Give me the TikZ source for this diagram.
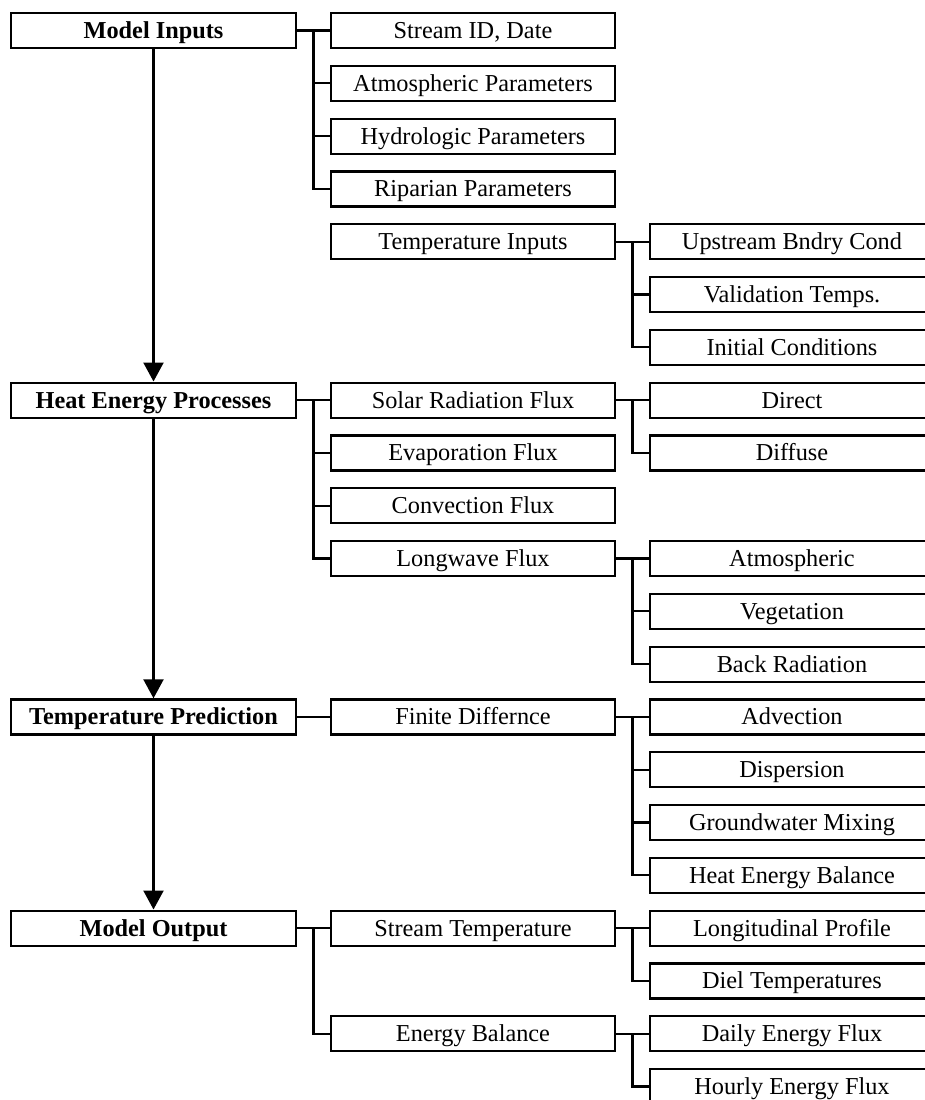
\documentclass[tikz,border=0pt]{standalone}
\usepackage{fontspec}
\setmainfont{Liberation Serif}
\usetikzlibrary{calc,arrows.meta}
\begin{document}
\begin{tikzpicture}[x=0.5pt,y=-0.5pt,
  box/.style={draw,line width=1.1pt,rectangle,inner sep=0pt,minimum height=17.5pt,text height=8pt,text depth=0pt,font=\fontsize{12.15}{14}\selectfont},
  lbox/.style={box,minimum width=142.5pt,font=\fontsize{12.15}{14}\selectfont\bfseries},
  mbox/.style={box,minimum width=142pt},
  rbox/.style={box,minimum width=142pt},
  conn/.style={line width=1.1pt},
  arr/.style={line width=1.1pt,-{Triangle[length=9.5pt,width=10pt]}}]
\useasboundingbox (0,0) rectangle (925,1100);
\clip (0,0) rectangle (925,1100);
\def\R#1{{30.5+52.8*#1}}
% left column
\node[lbox] (mi)  at (153.5,\R{0})  {Model Inputs};
\node[lbox] (hep) at (153.5,\R{7})  {Heat Energy Processes};
\node[lbox] (tp)  at (153.5,\R{13}) {Temperature Prediction};
\node[lbox] (mo)  at (153.5,\R{17}) {Model Output};
% middle column
\node[mbox] (sid) at (473,\R{0})  {Stream ID, Date};
\node[mbox] (atp) at (473,\R{1})  {Atmospheric Parameters};
\node[mbox] (hyp) at (473,\R{2})  {Hydrologic Parameters};
\node[mbox] (rip) at (473,\R{3})  {Riparian Parameters};
\node[mbox] (ti)  at (473,\R{4})  {Temperature Inputs};
\node[mbox] (srf) at (473,\R{7})  {Solar Radiation Flux};
\node[mbox] (evf) at (473,\R{8})  {Evaporation Flux};
\node[mbox] (cvf) at (473,\R{9})  {Convection Flux};
\node[mbox] (lwf) at (473,\R{10}) {Longwave Flux};
\node[mbox] (fd)  at (473,\R{13}) {Finite Differnce};
\node[mbox] (st)  at (473,\R{17}) {Stream Temperature};
\node[mbox] (eb)  at (473,\R{19}) {Energy Balance};
% right column
\node[rbox] (ubc) at (792,\R{4})  {Upstream Bndry Cond};
\node[rbox] (vt)  at (792,\R{5})  {Validation Temps.};
\node[rbox] (ic)  at (792,\R{6})  {Initial Conditions};
\node[rbox] (dir) at (792,\R{7})  {Direct};
\node[rbox] (dif) at (792,\R{8})  {Diffuse};
\node[rbox] (atm) at (792,\R{10}) {Atmospheric};
\node[rbox] (veg) at (792,\R{11}) {Vegetation};
\node[rbox] (br)  at (792,\R{12}) {Back Radiation};
\node[rbox] (adv) at (792,\R{13}) {Advection};
\node[rbox] (dsp) at (792,\R{14}) {Dispersion};
\node[rbox] (gwm) at (792,\R{15}) {Groundwater Mixing};
\node[rbox] (heb) at (792,\R{16}) {Heat Energy Balance};
\node[rbox] (lp)  at (792,\R{17}) {Longitudinal Profile};
\node[rbox] (dt)  at (792,\R{18}) {Diel Temperatures};
\node[rbox] (def) at (792,\R{19}) {Daily Energy Flux};
\node[rbox] (hef) at (792,\R{20}) {Hourly Energy Flux};
% main arrows
\draw[arr] (mi.south) -- (hep.north);
\draw[arr] (hep.south) -- (tp.north);
\draw[arr] (tp.south) -- (mo.north);
% brackets
\draw[conn] (mi.east) -- (sid.west);
\foreach \c in {atp,hyp,rip} \draw[conn] ($(mi.east)!.5!(sid.west)$) |- (\c.west);
\draw[conn] (ti.east) -- (ubc.west);
\foreach \c in {vt,ic} \draw[conn] ($(ti.east)!.5!(ubc.west)$) |- (\c.west);
\draw[conn] (hep.east) -- (srf.west);
\foreach \c in {evf,cvf,lwf} \draw[conn] ($(hep.east)!.5!(srf.west)$) |- (\c.west);
\draw[conn] (srf.east) -- (dir.west);
\draw[conn] ($(srf.east)!.5!(dir.west)$) |- (dif.west);
\draw[conn] (lwf.east) -- (atm.west);
\foreach \c in {veg,br} \draw[conn] ($(lwf.east)!.5!(atm.west)$) |- (\c.west);
\draw[conn] (tp.east) -- (fd.west);
\draw[conn] (fd.east) -- (adv.west);
\foreach \c in {dsp,gwm,heb} \draw[conn] ($(fd.east)!.5!(adv.west)$) |- (\c.west);
\draw[conn] (mo.east) -- (st.west);
\draw[conn] ($(mo.east)!.5!(st.west)$) |- (eb.west);
\draw[conn] (st.east) -- (lp.west);
\draw[conn] ($(st.east)!.5!(lp.west)$) |- (dt.west);
\draw[conn] (eb.east) -- (def.west);
\draw[conn] ($(eb.east)!.5!(def.west)$) |- (hef.west);
\end{tikzpicture}
\end{document}
